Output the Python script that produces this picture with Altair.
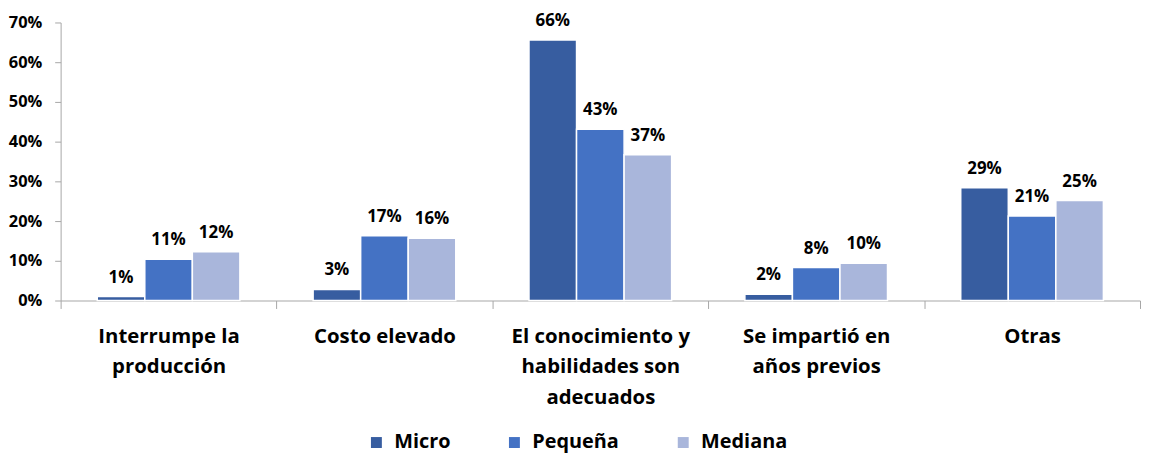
import altair as alt
import pandas as pd

categories = [
    "Interrumpe la|producción",
    "Costo elevado",
    "El conocimiento y|habilidades son|adecuados",
    "Se impartió en|años previos",
    "Otras",
]
series = ["Micro", "Pequeña", "Mediana"]
colors = ["#375DA0", "#4472C4", "#A9B6DB"]

micro = [1.0, 2.8, 65.6, 1.6, 28.4]
pequena = [10.4, 16.3, 43.1, 8.3, 21.3]
mediana = [12.3, 15.7, 36.7, 9.4, 25.2]

micro_labels = ["1%", "3%", "66%", "2%", "29%"]
pequena_labels = ["11%", "17%", "43%", "8%", "21%"]
mediana_labels = ["12%", "16%", "37%", "10%", "25%"]

y_ticks = [0, 10, 20, 30, 40, 50, 60, 70]

rows = []
for s, vals, labs in zip(series, [micro, pequena, mediana],
                         [micro_labels, pequena_labels, mediana_labels]):
    for c, v, l in zip(categories, vals, labs):
        rows.append({"cat": c, "serie": s, "val": v, "lab": l})
df = pd.DataFrame(rows)

FONT = "Open Sans"
AXIS_GRAY = "#A6A6A6"

base = alt.Chart(df).encode(
    x=alt.X(
        "cat:N",
        sort=categories,
        scale=alt.Scale(paddingInner=0, paddingOuter=0),
        axis=alt.Axis(
            title=None,
            labelAngle=0,
            labelExpr="datum.value ? split(datum.value, '|') : ''",
            labelFont=FONT,
            labelFontSize=20.5,
            labelFontWeight="bold",
            labelColor="black",
            labelLineHeight=31,
            labelPadding=18,
            labelBaseline="top",
            tickBand="extent",
            tickSize=8,
            tickColor=AXIS_GRAY,
            domainColor=AXIS_GRAY,
            grid=False,
        ),
    ),
    xOffset=alt.XOffset(
        "serie:N",
        sort=series,
        scale=alt.Scale(paddingInner=0, paddingOuter=0.77),
    ),
)

bars = base.mark_bar(stroke="white", strokeWidth=1.5).encode(
    y=alt.Y(
        "val:Q",
        scale=alt.Scale(domain=[0, 70], nice=False),
        axis=alt.Axis(
            title=None,
            values=y_ticks,
            tickCount=len(y_ticks),
            labelExpr="datum.value + '%'",
            labelOverlap=False,
            labelFont=FONT,
            labelFontSize=16.5,
            labelFontWeight="bold",
            labelColor="black",
            labelPadding=13,
            tickSize=6,
            tickColor=AXIS_GRAY,
            domainColor=AXIS_GRAY,
            grid=False,
        ),
    ),
    color=alt.Color(
        "serie:N",
        sort=series,
        scale=alt.Scale(domain=series, range=colors),
        legend=alt.Legend(
            title=None,
            orient="none",
            direction="horizontal",
            legendX=308,
            legendY=413,
            symbolType="square",
            symbolSize=121,
            symbolStrokeWidth=0,
            labelFont=FONT,
            labelFontSize=20,
            labelFontWeight="bold",
            labelColor="black",
            labelOffset=8,
            columnPadding=54,
        ),
    ),
)

labels = base.mark_text(
    baseline="alphabetic",
    dy=-14,
    font=FONT,
    fontSize=17,
    fontWeight="bold",
    color="black",
).encode(
    y=alt.Y("val:Q"),
    text="lab:N",
)

chart = (
    alt.layer(bars, labels)
    .properties(
        width=1087,
        height=280,
        autosize=alt.AutoSizeParams(type="none"),
        padding={"left": 53, "top": 13, "right": 1, "bottom": 155},
    )
    .configure_view(stroke=None)
)

chart.save("out.html", embed_options={"renderer": "svg", "actions": False})
